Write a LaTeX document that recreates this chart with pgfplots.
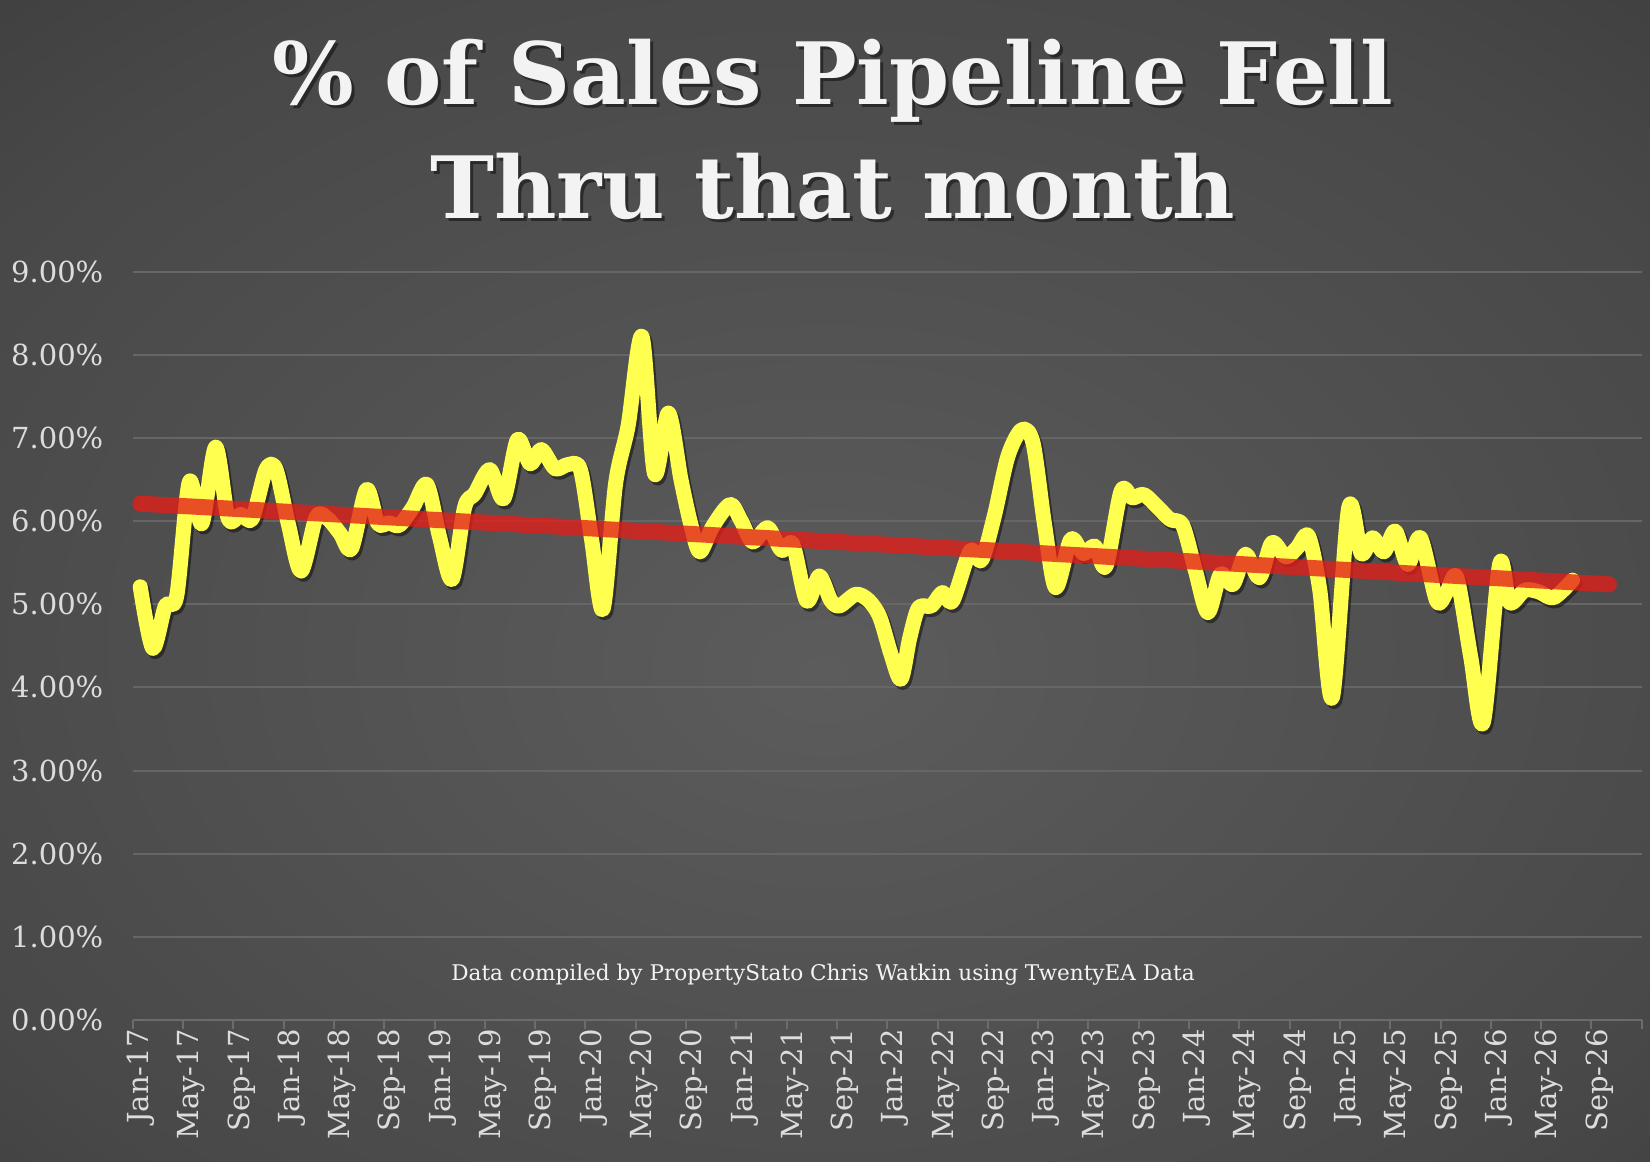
\documentclass[border=0pt]{standalone}
\usepackage{pgfplots}
\pgfplotsset{compat=1.18}
\usepackage{fontspec}
\setmainfont{DejaVu Serif}
\definecolor{bgin}{RGB}{92,92,92}
\definecolor{bgmid}{RGB}{72,72,72}
\definecolor{bgedge}{RGB}{50,50,50}
\definecolor{bgout}{RGB}{38,38,38}
\definecolor{gridgray}{RGB}{102,102,102}
\definecolor{axisgray}{RGB}{108,108,108}
\definecolor{labelgray}{RGB}{220,220,220}
\definecolor{titlewhite}{RGB}{243,243,243}
\definecolor{lineyellow}{RGB}{255,255,80}
\definecolor{trendred}{RGB}{228,30,24}
\pgfdeclareradialshading{bgshade}{\pgfpoint{0bp}{-4bp}}{color(0bp)=(bgin); color(30bp)=(bgmid); color(50bp)=(bgedge); color(72bp)=(bgout)}
\begin{document}
\begin{tikzpicture}
\path[shading=bgshade] (0,0) rectangle (825pt,581pt);
% title
\node[anchor=base, text=black, opacity=0.45, font=\fontsize{43}{50}\selectfont\bfseries] at (418pt,527pt) {\% of Sales Pipeline Fell};
\node[anchor=base, text=titlewhite, font=\fontsize{43}{50}\selectfont\bfseries] at (416.5pt,528.5pt) {\% of Sales Pipeline Fell};
\node[anchor=base, text=black, opacity=0.45, font=\fontsize{43}{50}\selectfont\bfseries] at (418pt,470pt) {Thru that month};
\node[anchor=base, text=titlewhite, font=\fontsize{43}{50}\selectfont\bfseries] at (416.5pt,471.5pt) {Thru that month};
\begin{axis}[
  at={(66.35pt,71pt)}, anchor=south west,
  scale only axis, width=754.5pt, height=374.15pt,
  xmin=0, xmax=120, ymin=0, ymax=9,
  axis x line*=bottom, axis y line*=left,
  x axis line style={draw=axisgray, line width=1pt, -},
  y axis line style={draw=none},
  xtick={0,4,...,120},
  xticklabels={Jan-17,May-17,Sep-17,Jan-18,May-18,Sep-18,Jan-19,May-19,Sep-19,Jan-20,May-20,Sep-20,Jan-21,May-21,Sep-21,Jan-22,May-22,Sep-22,Jan-23,May-23,Sep-23,Jan-24,May-24,Sep-24,Jan-25,May-25,Sep-25,Jan-26,May-26,Sep-26,{}},
  ytick={0,1,...,9},
  yticklabels={0.00\%,1.00\%,2.00\%,3.00\%,4.00\%,5.00\%,6.00\%,7.00\%,8.00\%,9.00\%},
  tick align=outside, major tick length=4.5pt,
  xtick style={draw=axisgray, line width=1pt},
  ytick style={draw=none},
  ymajorgrids, grid style={draw=gridgray, line width=1pt},
  tick label style={font=\fontsize{14.5}{17}\selectfont, text=labelgray, inner sep=0pt},
  yticklabel style={anchor=east, xshift=-10pt},
  xticklabel style={xshift=4pt, rotate=90, anchor=east, yshift=0pt},
]
\addplot[lineyellow, line width=7.5pt, smooth, line cap=round, line join=round,
  preaction={draw=black, opacity=0.45, line width=7.5pt, transform canvas={xshift=1.2pt, yshift=-1.6pt}}]
coordinates {
(0.6,5.21)(1.6,4.47)(2.6,4.98)(3.5,5.10)(4.5,6.47)(5.5,5.97)(6.6,6.89)(7.6,6.03)(8.6,6.08)(9.5,6.03)
(10.6,6.62)(11.4,6.62)(12.4,5.95)(13.4,5.40)(14.6,6.05)(15.5,6.03)(16.5,5.85)(17.4,5.67)(18.6,6.38)(19.5,5.97)
(20.4,5.98)(21.2,5.95)(22.3,6.17)(23.4,6.44)(24.4,5.81)(25.4,5.30)(26.4,6.17)(27.2,6.33)(28.4,6.62)(29.5,6.27)
(30.6,6.98)(31.6,6.69)(32.5,6.86)(33.6,6.63)(34.6,6.68)(35.6,6.62)(36.5,5.77)(37.4,4.94)(38.4,6.45)(39.4,7.15)
(40.5,8.22)(41.5,6.57)(42.6,7.30)(43.6,6.50)(44.4,5.95)(45.1,5.63)(46.1,5.93)(47.5,6.20)(48.4,6.00)(49.3,5.75)
(50.5,5.92)(51.6,5.65)(52.5,5.72)(53.6,5.04)(54.6,5.34)(55.5,5.05)(56.2,4.98)(57.5,5.12)(58.5,5.05)(59.4,4.85)
(60.3,4.40)(61.1,4.10)(61.8,4.60)(62.5,4.96)(63.5,4.98)(64.4,5.14)(65.2,5.04)(66.6,5.64)(67.5,5.53)(68.5,6.05)
(69.6,6.78)(70.7,7.10)(71.6,6.94)(72.5,5.97)(73.4,5.20)(74.6,5.78)(75.6,5.61)(76.5,5.70)(77.4,5.46)(78.6,6.36)
(79.5,6.28)(80.4,6.32)(81.5,6.17)(82.5,6.02)(83.5,5.95)(84.5,5.41)(85.5,4.90)(86.5,5.36)(87.5,5.24)(88.5,5.60)
(89.6,5.32)(90.6,5.74)(91.7,5.57)(92.6,5.68)(93.5,5.82)(94.4,5.17)(95.4,3.88)(96.7,6.16)(97.7,5.61)(98.6,5.80)
(99.5,5.63)(100.4,5.88)(101.4,5.48)(102.4,5.80)(103.7,5.04)(104.5,5.15)(105.3,5.32)(106.4,4.37)(107.4,3.58)(108.7,5.48)
(109.5,5.02)(110.7,5.17)(111.8,5.15)(113.0,5.08)(114.5,5.29)
};
\addplot[trendred, opacity=0.78, line width=8pt, line cap=round] coordinates {(0.6,6.21)(117.4,5.24)};
\end{axis}
\node[anchor=base, text=titlewhite, font=\fontsize{10.8}{13}\selectfont] at (411.5pt,90.5pt) {Data compiled by PropertyStato Chris Watkin using TwentyEA Data};
\pgfresetboundingbox
\useasboundingbox (0,0) rectangle (825pt,581pt);
\end{tikzpicture}
\end{document}
